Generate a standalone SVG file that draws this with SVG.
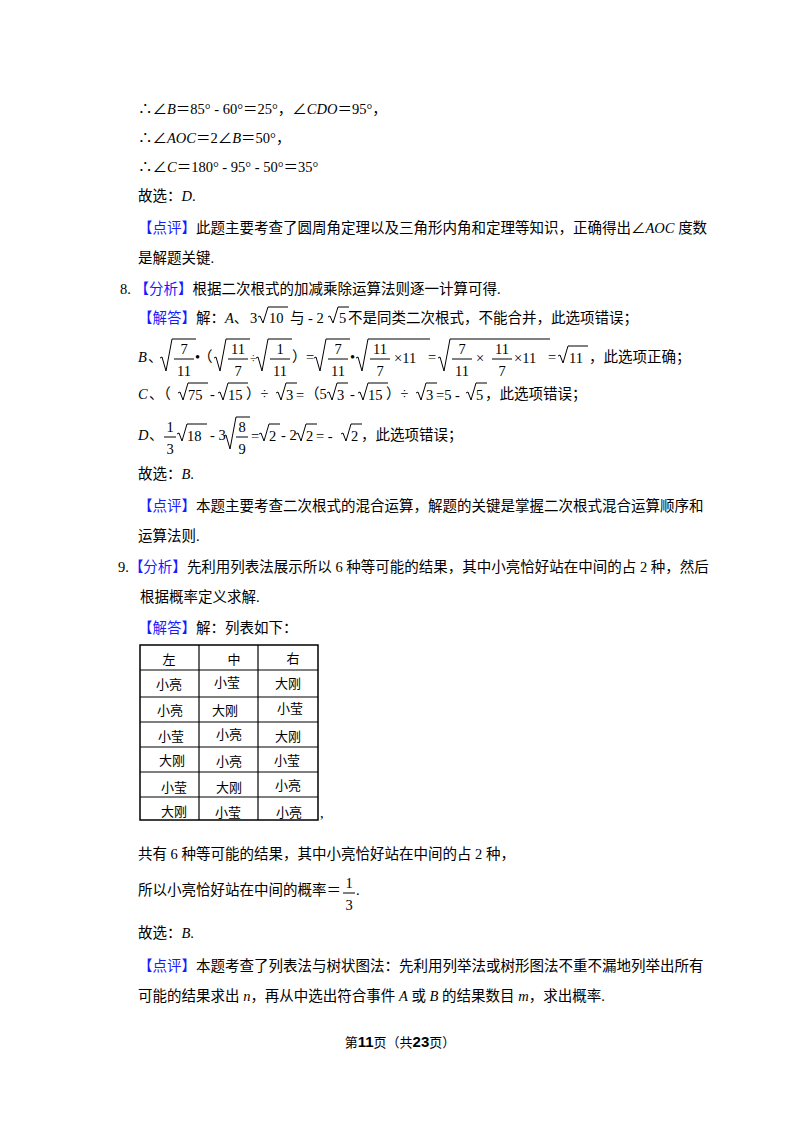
<svg xmlns="http://www.w3.org/2000/svg" width="800" height="1132" viewBox="0 0 800 1132">
<style>
text{font-family:"Liberation Serif","Noto Sans CJK SC",serif;font-size:14.5px;fill:#000}
.b{fill:#1a1aff}
.i{font-style:italic}
.r{fill:none;stroke:#000;stroke-width:1}
.t{font-family:"Noto Sans CJK SC",sans-serif;font-size:13px}
.c{text-anchor:middle}
</style>
<rect width="800" height="1132" fill="#fff"/>
<text x="138" y="114">∴∠<tspan class="i">B</tspan>＝85° - 60°＝25°，∠<tspan class="i">CDO</tspan>＝95°，</text>
<text x="138" y="143">∴∠<tspan class="i">AOC</tspan>＝2∠<tspan class="i">B</tspan>＝50°，</text>
<text x="138" y="172">∴∠<tspan class="i">C</tspan>＝180° - 95° - 50°＝35°</text>
<text x="138" y="201">故选：<tspan class="i">D</tspan>.</text>
<text x="138" y="233"><tspan class="b">【点评】</tspan>此题主要考查了圆周角定理以及三角形内角和定理等知识，正确得出∠<tspan class="i">AOC</tspan> 度数</text>
<text x="138" y="263">是解题关键.</text>
<text x="120" y="294">8. <tspan class="b">【分析】</tspan>根据二次根式的加减乘除运算法则逐一计算可得.</text>
<!-- A line -->
<text x="138" y="323"><tspan class="b">【解答】</tspan>解：<tspan class="i">A</tspan>、</text>
<text x="250" y="323">3</text>
<path class="r" d="M258 317 l2 -1 l3 7 l5 -16 h20"/>
<text x="269" y="323">10</text>
<text x="290" y="323">与 - 2</text>
<path class="r" d="M328 317 l2 -1 l3 7 l5 -16 h11"/>
<text x="339" y="323">5</text>
<text x="348" y="323">不是同类二次根式，不能合并，此选项错误；</text>
<!-- B line -->
<text class="i" x="138" y="362">B</text><text x="148" y="362">、</text>
<path class="r" d="M160 358 l2 -1 l4 14 l6 -32 h24"/>
<text class="c" x="184" y="354">7</text><line x1="174" y1="359" x2="194" y2="359" stroke="#000"/><text class="c" x="184" y="376">11</text>
<text x="195" y="362">•</text>
<text x="198" y="362">（</text>
<path class="r" d="M214 358 l2 -1 l4 14 l6 -32 h24"/>
<text class="c" x="238" y="354">11</text><line x1="228" y1="359" x2="248" y2="359" stroke="#000"/><text class="c" x="238" y="376">7</text>
<text x="250" y="362" style="font-size:12px">÷</text>
<path class="r" d="M256 358 l2 -1 l4 14 l6 -32 h24"/>
<text class="c" x="280" y="354">1</text><line x1="270" y1="359" x2="290" y2="359" stroke="#000"/><text class="c" x="280" y="376">11</text>
<text x="292" y="362">）</text>
<text x="306" y="362">=</text>
<path class="r" d="M314 358 l2 -1 l4 14 l6 -32 h24"/>
<text class="c" x="338" y="354">7</text><line x1="328" y1="359" x2="348" y2="359" stroke="#000"/><text class="c" x="338" y="376">11</text>
<text x="350" y="362">•</text>
<path class="r" d="M356 358 l2 -1 l4 14 l6 -32 h62"/>
<text class="c" x="380" y="354">11</text><line x1="370" y1="359" x2="390" y2="359" stroke="#000"/><text class="c" x="380" y="376">7</text>
<text x="394" y="363">×11</text>
<text x="428" y="362">=</text>
<path class="r" d="M438 358 l2 -1 l4 14 l6 -32 h100"/>
<text class="c" x="462" y="354">7</text><line x1="452" y1="359" x2="472" y2="359" stroke="#000"/><text class="c" x="462" y="376">11</text>
<text x="476" y="363">×</text>
<text class="c" x="502" y="354">11</text><line x1="492" y1="359" x2="512" y2="359" stroke="#000"/><text class="c" x="502" y="376">7</text>
<text x="514" y="363">×11</text>
<text x="548" y="362">=</text>
<path class="r" d="M558 356 l2 -1 l3 8 l5 -17 h20"/>
<text x="569" y="363">11</text>
<text x="589" y="362">，此选项正确；</text>
<!-- C line -->
<text class="i" x="138" y="399">C</text><text x="149" y="399">、（</text>
<path class="r" d="M178 393 l2 -1 l3 8 l5 -17 h20"/><text x="188" y="400">75</text>
<text x="210" y="399">-</text>
<path class="r" d="M218 393 l2 -1 l3 8 l5 -17 h20"/><text x="228" y="400">15</text>
<text x="246" y="399">）÷</text>
<path class="r" d="M276 393 l2 -1 l3 8 l5 -17 h11"/><text x="286" y="400">3</text>
<text x="296" y="400">=</text>
<text x="305" y="399">（5</text>
<path class="r" d="M327 393 l2 -1 l3 8 l5 -17 h11"/><text x="337" y="400">3</text>
<text x="350" y="399">-</text>
<path class="r" d="M358 393 l2 -1 l3 8 l5 -17 h20"/><text x="368" y="400">15</text>
<text x="386" y="399">）÷</text>
<path class="r" d="M416 393 l2 -1 l3 8 l5 -17 h11"/><text x="426" y="400">3</text>
<text x="436" y="400">=5 -</text>
<path class="r" d="M466 393 l2 -1 l3 8 l5 -17 h11"/><text x="476" y="400">5</text>
<text x="485" y="399">，此选项错误；</text>
<!-- D line -->
<text class="i" x="138" y="440">D</text><text x="149" y="440">、</text>
<text class="c" x="170" y="432">1</text><line x1="164" y1="437" x2="176" y2="437" stroke="#000"/><text class="c" x="170" y="454">3</text>
<path class="r" d="M177 434 l2 -1 l3 8 l5 -17 h20"/><text x="187" y="441">18</text>
<text x="210" y="440">- 3</text>
<path class="r" d="M224 436 l2 -1 l4 14 l6 -32 h14"/>
<text class="c" x="242" y="432">8</text><line x1="236" y1="437" x2="248" y2="437" stroke="#000"/><text class="c" x="242" y="454">9</text>
<text x="251" y="441">=</text>
<path class="r" d="M259 434 l2 -1 l3 8 l5 -17 h11"/><text x="269" y="441">2</text>
<text x="281" y="440">- 2</text>
<path class="r" d="M296 434 l2 -1 l3 8 l5 -17 h11"/><text x="306" y="441">2</text>
<text x="316" y="441">= -</text>
<path class="r" d="M341 434 l2 -1 l3 8 l5 -17 h11"/><text x="351" y="441">2</text>
<text x="361" y="440">，此选项错误；</text>
<text x="138" y="479">故选：<tspan class="i">B</tspan>.</text>
<text x="138" y="511"><tspan class="b">【点评】</tspan>本题主要考查二次根式的混合运算，解题的关键是掌握二次根式混合运算顺序和</text>
<text x="138" y="541">运算法则.</text>
<text x="118" y="572">9.<tspan class="b">【分析】</tspan>先利用列表法展示所以 6 种等可能的结果，其中小亮恰好站在中间的占 2 种，然后</text>
<text x="140" y="602">根据概率定义求解.</text>
<text x="138" y="633"><tspan class="b">【解答】</tspan>解：列表如下：</text>
<g id="table">
<rect x="140" y="645" width="178" height="175" fill="none" stroke="#000" stroke-width="1.5"/>
<g stroke="#000" stroke-width="1.2">
<line x1="199" y1="645" x2="199" y2="820"/><line x1="258" y1="645" x2="258" y2="820"/>
<line x1="140" y1="670" x2="318" y2="670"/><line x1="140" y1="697" x2="318" y2="697"/>
<line x1="140" y1="722" x2="318" y2="722"/><line x1="140" y1="747" x2="318" y2="747"/>
<line x1="140" y1="772" x2="318" y2="772"/><line x1="140" y1="797" x2="318" y2="797"/>
</g>
<g class="t">
<text class="c t" x="169" y="664">左</text><text class="c t" x="234" y="664">中</text><text class="c t" x="293" y="663">右</text>
<text class="c t" x="169" y="689">小亮</text><text class="c t" x="227" y="687">小莹</text><text class="c t" x="288" y="688">大刚</text>
<text class="c t" x="170" y="715">小亮</text><text class="c t" x="225" y="715">大刚</text><text class="c t" x="290" y="713">小莹</text>
<text class="c t" x="171" y="741">小莹</text><text class="c t" x="229" y="739">小亮</text><text class="c t" x="288" y="741">大刚</text>
<text class="c t" x="172" y="765">大刚</text><text class="c t" x="229" y="766">小亮</text><text class="c t" x="287" y="765">小莹</text>
<text class="c t" x="174" y="792">小莹</text><text class="c t" x="229" y="792">大刚</text><text class="c t" x="288" y="790">小亮</text>
<text class="c t" x="174" y="816">大刚</text><text class="c t" x="228" y="817">小莹</text><text class="c t" x="289" y="817">小亮</text>
</g>
</g>
<text x="320" y="818">,</text>
<text x="138" y="859">共有 6 种等可能的结果，其中小亮恰好站在中间的占 2 种，</text>
<text x="138" y="895">所以小亮恰好站在中间的概率＝</text>
<text class="c" x="349" y="888">1</text><line x1="343" y1="893" x2="355" y2="893" stroke="#000"/><text class="c" x="349" y="910">3</text>
<text x="356" y="895">.</text>
<text x="138" y="938">故选：<tspan class="i">B</tspan>.</text>
<text x="138" y="971"><tspan class="b">【点评】</tspan>本题考查了列表法与树状图法：先利用列举法或树形图法不重不漏地列举出所有</text>
<text x="138" y="1001">可能的结果求出 <tspan class="i">n</tspan>，再从中选出符合事件 <tspan class="i">A</tspan> 或 <tspan class="i">B</tspan> 的结果数目 <tspan class="i">m</tspan>，求出概率.</text>
<text x="400" y="1047" class="c" style="font-size:13px">第<tspan style="font-family:'Liberation Sans',sans-serif;font-weight:bold;font-size:15px">11</tspan>页（共<tspan style="font-family:'Liberation Sans',sans-serif;font-weight:bold;font-size:15px">23</tspan>页）</text>
</svg>
